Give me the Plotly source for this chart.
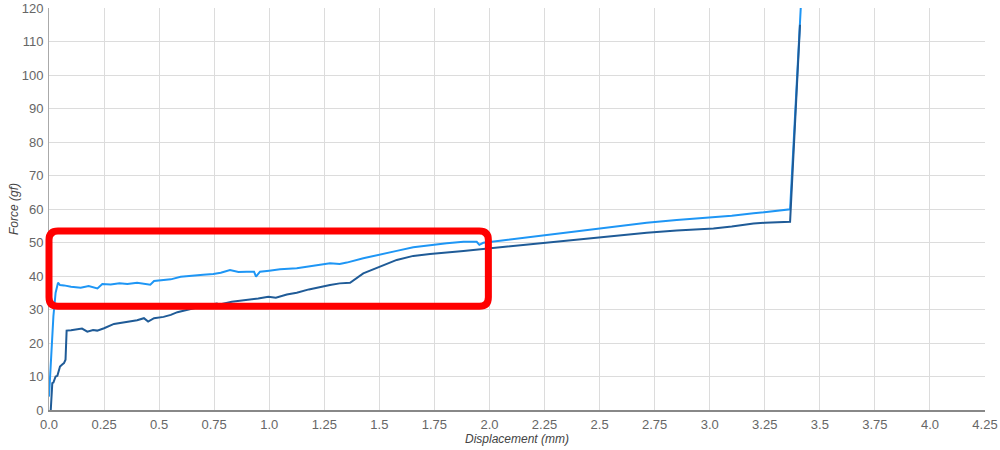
import plotly.graph_objects as go

# ---- data ----
light_x = [0.0, 0.01, 0.02, 0.03, 0.041, 0.05, 0.068, 0.1, 0.144, 0.18, 0.22, 0.242, 0.28, 0.32,
           0.356, 0.40, 0.43, 0.46, 0.477, 0.52, 0.553, 0.598, 0.65, 0.70, 0.746, 0.78, 0.822, 0.86,
           0.898, 0.931, 0.94, 0.958, 1.0, 1.049, 1.125, 1.18, 1.231, 1.276, 1.32, 1.352, 1.427,
           1.503, 1.579, 1.654, 1.730, 1.806, 1.882, 1.942, 1.954, 1.972, 2.048, 2.109, 2.25, 2.411,
           2.55, 2.714, 2.85, 3.017, 3.1, 3.199, 3.25, 3.30, 3.365, 3.415]
light_y = [4, 15, 28, 35, 38, 37.3, 37.2, 36.8, 36.5, 37, 36.3, 37.6, 37.5, 37.8,
           37.6, 38, 37.8, 37.4, 38.5, 38.8, 39, 39.8, 40.2, 40.4, 40.6, 41, 41.8, 41.2,
           41.3, 41.3, 39.8, 41.3, 41.6, 42, 42.3, 42.8, 43.3, 43.8, 43.6, 44, 45.3,
           46.3, 47.5, 48.6, 49.3, 49.8, 50.2, 50.2, 49.3, 49.9, 50.5, 51, 52.2, 53.5,
           54.5, 55.9, 56.7, 57.5, 58, 58.7, 59.1, 59.4, 59.9, 122]

dark_x = [0.008, 0.015, 0.02, 0.03, 0.038, 0.045, 0.05, 0.06, 0.068, 0.075, 0.08, 0.1, 0.13, 0.15,
          0.174, 0.2, 0.219, 0.25, 0.295, 0.33, 0.371, 0.40, 0.431, 0.45, 0.477, 0.52, 0.553, 0.583,
          0.62, 0.66, 0.70, 0.762, 0.775, 0.83, 0.898, 0.95, 0.996, 1.03, 1.08, 1.125, 1.18, 1.231,
          1.276, 1.32, 1.367, 1.427, 1.503, 1.579, 1.654, 1.73, 1.882, 2.048, 2.109, 2.25, 2.411,
          2.55, 2.714, 2.85, 3.017, 3.1, 3.199, 3.25, 3.30, 3.365, 3.41]
dark_y = [0, 8, 8.2, 10, 10.2, 12, 13, 13.6, 14, 15, 23.7, 23.8, 24.1, 24.3,
          23.4, 23.9, 23.7, 24.4, 25.7, 26, 26.4, 26.8, 27.4, 26.4, 27.4, 27.8, 28.4, 29.2,
          29.8, 30.5, 31, 31.8, 31.5, 32.3, 32.8, 33.3, 33.8, 33.5, 34.5, 35, 36, 36.8,
          37.3, 37.8, 38, 40.8, 42.8, 44.8, 46, 46.6, 47.5, 48.6, 48.9, 49.8, 51,
          52, 52.9, 53.6, 54.2, 54.8, 55.7, 55.9, 56, 56.2, 115]

x_tickvals = [0, 0.25, 0.5, 0.75, 1.0, 1.25, 1.5, 1.75, 2.0, 2.25, 2.5, 2.75, 3.0, 3.25, 3.5, 3.75, 4.0, 4.25]
x_ticktext = ["0.0", "0.25", "0.5", "0.75", "1.0", "1.25", "1.5", "1.75", "2.0", "2.25", "2.5",
              "2.75", "3.0", "3.25", "3.5", "3.75", "4.0", "4.25"]
y_tickvals = [0, 10, 20, 30, 40, 50, 60, 70, 80, 90, 100, 110, 120]

X_RANGE = [0, 4.25]
Y_RANGE = [0, 120]

# highlight box (data units)
BOX = dict(x0=0.0, x1=1.995, y0=31.0, y1=53.4)

fig = go.Figure()
fig.add_trace(go.Scatter(x=light_x, y=light_y, mode="lines",
                         line=dict(color="#1e96f5", width=2), name="Run 1"))
fig.add_trace(go.Scatter(x=dark_x, y=dark_y, mode="lines",
                         line=dict(color="#1f5b97", width=2), name="Run 2"))

M_L, M_R, M_T, M_B = 49, 15, 8, 40

def px(x):
    return (x - X_RANGE[0]) / (X_RANGE[1] - X_RANGE[0])

def py(y):
    return (y - Y_RANGE[0]) / (Y_RANGE[1] - Y_RANGE[0])

plot_w = 1000 - M_L - M_R
plot_h = 450 - M_T - M_B
r = 9
rx = r / plot_w
ry = r / plot_h
x0, x1 = px(BOX["x0"]), px(BOX["x1"])
y0, y1 = py(BOX["y0"]), py(BOX["y1"])
path = (f"M {x0+rx},{y0} L {x1-rx},{y0} Q {x1},{y0} {x1},{y0+ry} "
        f"L {x1},{y1-ry} Q {x1},{y1} {x1-rx},{y1} "
        f"L {x0+rx},{y1} Q {x0},{y1} {x0},{y1-ry} "
        f"L {x0},{y0+ry} Q {x0},{y0} {x0+rx},{y0} Z")
fig.add_shape(type="path", path=path, xref="paper", yref="paper",
              line=dict(color="#ff0000", width=7))

fig.update_layout(
    width=1000, height=450,
    margin=dict(l=M_L, r=M_R, t=M_T, b=M_B, autoexpand=False),
    paper_bgcolor="white", plot_bgcolor="white",
    showlegend=False,
    font=dict(family="Liberation Sans, Arial, sans-serif", size=13, color="#666"),
)
fig.update_xaxes(
    range=X_RANGE, tickvals=x_tickvals, ticktext=x_ticktext,
    showgrid=True, gridcolor="#dcdcdc", gridwidth=1,
    showline=True, linecolor="#888", linewidth=1.5,
    zeroline=False, ticks="", automargin=False,
    ticklabelstandoff=2,
    title=dict(text="<i>Displacement (mm)</i>", font=dict(size=12, color="#444"), standoff=2),
)
fig.update_yaxes(
    range=Y_RANGE, tickvals=y_tickvals,
    showgrid=True, gridcolor="#dcdcdc", gridwidth=1,
    showline=True, linecolor="#aaa", linewidth=1,
    zeroline=False, ticks="", automargin=False,
    ticklabelstandoff=2,
    title=dict(text="<i>Force (gf)</i>", font=dict(size=12, color="#444"), standoff=0),
)

fig.write_html("out.html", config={"displayModeBar": False},
               post_script="document.body.style.margin='0';document.body.style.overflow='hidden';")
